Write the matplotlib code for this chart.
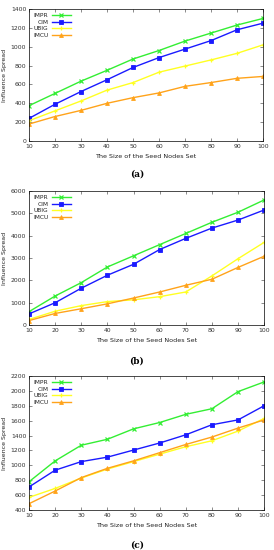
"""Influence spread vs. seed set size, three datasets (a), (b), (c)."""

import matplotlib
matplotlib.use("Agg")
import matplotlib.pyplot as plt

seed_sizes = [10, 20, 30, 40, 50, 60, 70, 80, 90, 100]
methods = ["IMPR", "CIM", "UBIG", "IMCU"]

# Panel (a)
a_impr = [375, 505, 635, 750, 870, 960, 1060, 1145, 1230, 1300]
a_cim = [240, 390, 525, 650, 780, 885, 975, 1065, 1180, 1250]
a_ubig = [215, 320, 425, 540, 620, 730, 795, 860, 930, 1020]
a_imcu = [180, 260, 325, 400, 460, 510, 580, 620, 665, 685]

# Panel (b)
b_impr = [600, 1300, 1900, 2600, 3100, 3600, 4100, 4600, 5050, 5600]
b_cim = [500, 1000, 1650, 2230, 2720, 3380, 3880, 4340, 4700, 5150]
b_ubig = [250, 620, 870, 1050, 1130, 1270, 1480, 2200, 2970, 3700]
b_imcu = [200, 520, 730, 950, 1210, 1480, 1780, 2050, 2580, 3080]

# Panel (c)
c_impr = [780, 1060, 1270, 1350, 1490, 1575, 1685, 1760, 1990, 2120]
c_cim = [710, 935, 1050, 1110, 1205, 1300, 1410, 1545, 1610, 1800]
c_ubig = [570, 690, 830, 950, 1050, 1150, 1250, 1330, 1460, 1630]
c_imcu = [485, 655, 835, 960, 1060, 1170, 1280, 1380, 1500, 1610]

styles = {
    "IMPR": dict(color="#33ee33", marker="x", ms=3.5, mew=0.9),
    "CIM": dict(color="#1a1aff", marker="s", ms=2.6, mew=0.6),
    "UBIG": dict(color="#ffff22", marker="+", ms=3.5, mew=0.9),
    "IMCU": dict(color="#ffa31a", marker="^", ms=2.8, mew=0.6),
}

panels = [
    ("(a)", [a_impr, a_cim, a_ubig, a_imcu], (0, 1400), range(0, 1401, 200),
     [0.106, 0.7436, 0.854, 0.240], 0.676),
    ("(b)", [b_impr, b_cim, b_ubig, b_imcu], (0, 6000), range(0, 6001, 1000),
     [0.106, 0.409, 0.858, 0.2437], 0.336),
    ("(c)", [c_impr, c_cim, c_ubig, c_imcu], (400, 2200), range(400, 2201, 200),
     [0.106, 0.0727, 0.858, 0.2437], 0.0),
]

fig = plt.figure(figsize=(2.74, 5.50), dpi=100)

for tag, series, ylim, yticks, rect, tag_y in panels:
    ax = fig.add_axes(rect)
    for name, vals in zip(methods, series):
        st = styles[name]
        ax.plot(seed_sizes, vals, color=st["color"], lw=1.0, marker=st["marker"],
                ms=st["ms"], mew=st["mew"], mfc=st["color"], mec=st["color"], label=name)
    ax.set_xlim(10, 100)
    ax.set_ylim(*ylim)
    ax.set_xticks(seed_sizes)
    ax.set_yticks(list(yticks))
    ax.tick_params(direction="in", top=True, right=True, labelsize=4.4, length=2,
                   width=0.4, pad=2, colors="#333333")
    for sp in ax.spines.values():
        sp.set_linewidth(0.5)
    ax.set_xlabel("The Size of the Seed Nodes Set", fontsize=4.6, labelpad=4, color="#222222")
    ax.set_ylabel("Influence Spread", fontsize=4.5, labelpad=3, color="#222222")
    leg = ax.legend(loc="upper left", frameon=False, fontsize=4.2, markerfirst=False,
                    handlelength=3.2, handletextpad=0.6, labelspacing=0.25,
                    borderaxespad=0.3, bbox_to_anchor=(0.0, 1.0))
    for t in leg.get_texts():
        t.set_ha("right")
        t.set_color("#222222")
    fig.text(0.5, tag_y, tag, ha="center", va="bottom", fontsize=6.5,
             family="DejaVu Serif", fontweight="bold")

fig.savefig("out.png", dpi=100)
